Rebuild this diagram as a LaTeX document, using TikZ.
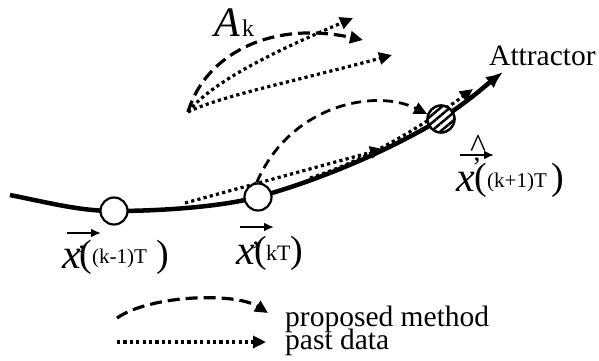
\documentclass[tikz,border=0pt]{standalone}
\usepackage{fontspec}
\setmainfont{Liberation Serif}
\usetikzlibrary{arrows.meta,patterns.meta}
\begin{document}
\begin{tikzpicture}[x=1pt,y=-1pt,
  attr/.style={line width=4.5pt,-{Latex[length=17pt,width=14pt]}},
  dsh/.style={line width=3.2pt,dash pattern=on 12pt off 6pt,-{Triangle[length=13pt,width=12pt]}},
  dtt/.style={line width=3.2pt,dash pattern=on 3.2pt off 3.2pt,-{Triangle[length=13pt,width=12pt]}},
  pnt/.style={circle,draw,line width=2.2pt,minimum size=27pt,inner sep=0pt,fill=white},
  txt/.style={inner sep=0pt,anchor=base west,font=\fontsize{29.5}{29.5}\selectfont},
  bigx/.style={inner sep=0pt,anchor=base west,font=\fontsize{42}{42}\selectfont\itshape},
  bigp/.style={inner sep=0pt,anchor=base west,font=\fontsize{38}{38}\selectfont},
  sml/.style={inner sep=0pt,anchor=base west,font=\fontsize{21}{21}\selectfont},
  prm/.style={inner sep=0pt,anchor=base west,font=\fontsize{28}{28}\selectfont},
  vec/.style={line width=2.5pt,-{Latex[length=10pt,width=9pt]}}
]
\useasboundingbox (0,0) rectangle (599,360);

% attractor curve
\coordinate (s) at (10,195);
\coordinate (e) at (503,72);
\coordinate (c1p) at (114,211);
\coordinate (c2p) at (258,197);
\coordinate (c3p) at (441,119);
\draw[attr] (s) .. controls (50,203) and (80,211) .. (c1p)
  .. controls (160,211) and (220,207) .. (c2p)
  .. controls (320,180) and (390,150) .. (c3p)
  .. controls (470,100) and (485,86) .. (e);

% past data (lower)
\coordinate (p1s) at (185,203);
\coordinate (p1e) at (383,149);
\draw[dtt] (p1s) -- (p1e);
\coordinate (p2s) at (310,178);
\coordinate (p2e) at (473,89);
\draw[dtt] (p2s) .. controls (360,162) and (410,135) .. (p2e);

% points
\node[pnt] (c1) at (c1p) {};
\node[pnt] (c2) at (c2p) {};
\node[pnt,fill=none,preaction={fill=white},pattern={Lines[angle=40,distance=6pt,line width=2.5pt]}] (c3) at (c3p) {};
\node[pnt,fill=none] at (c3p) {};

% proposed (lower)
\draw[dsh,line width=2.8pt,dash pattern=on 10pt off 6pt] (c2.95) .. controls (290,105) and (375,88) .. (c3.160);

% upper group
\coordinate (o) at (188,112);
\coordinate (ua) at (353,18);
\coordinate (ub) at (392,55);
\coordinate (ud) at (363,40);
\draw[dsh] (o) .. controls (205,55) and (270,20) .. (ud);
\draw[dtt] (o) .. controls (215,78) and (290,45) .. (ua);
\draw[dtt] (o) .. controls (220,96) and (300,80) .. (ub);
\node[inner sep=0pt,anchor=base west,font=\fontsize{42}{42}\selectfont\itshape] (A) at (214,36) {A};
\node[inner sep=0pt,anchor=base west,font=\fontsize{24}{24}\selectfont] (k) at (242,36) {k};

\node[txt] (att) at (489,65) {Attractor};

% label 1
\node[bigx] (x1) at (62,268) {x};
\node[bigp] (o1) at (79,266) {(};
\node[prm] (q1) at (77,264) {’};
\node[sml] (t1) at (92,263) {(k-1)T};
\node[bigp] (r1) at (156,266) {)};
\coordinate (v1s) at (67,233);
\coordinate (v1e) at (101,233);
\draw[vec] (v1s) -- (v1e);

% label 2
\node[bigx] (x2) at (236,264) {x};
\node[bigp] (o2) at (254,262) {(};
\node[prm] (q2) at (251,260) {’};
\node[sml,font=\fontsize{22}{22}\selectfont] (t2) at (266,260) {kT};
\node[bigp] (r2) at (290,262) {)};
\coordinate (v2s) at (240,227);
\coordinate (v2e) at (274,227);
\draw[vec] (v2s) -- (v2e);

% label 3
\node[bigx] (x3) at (456,191) {x};
\node[prm] (q3) at (472,176) {’};
\node[bigp] (o3) at (474,189) {(};
\node[sml] (t3) at (487,187) {(k+1)T};
\node[bigp] (r3) at (551,189) {)};
\coordinate (v3s) at (460,155);
\coordinate (v3e) at (494,155);
\draw[vec] (v3s) -- (v3e);
\node[inner sep=0pt,anchor=base west,font=\fontsize{34}{34}\selectfont] (h3) at (470,157) {\textasciicircum};

% legend
\coordinate (l1s) at (117,318);
\coordinate (l1e) at (268,313);
\draw[dsh] (l1s) .. controls (150,295) and (235,292) .. (l1e);
\coordinate (l2s) at (117,342);
\coordinate (l2e) at (266,342);
\draw[dtt] (l2s) -- (l2e);
\node[txt] (lg1) at (285,326) {proposed method};
\node[txt] (lg2) at (285,349) {past data};
\end{tikzpicture}
\end{document}
